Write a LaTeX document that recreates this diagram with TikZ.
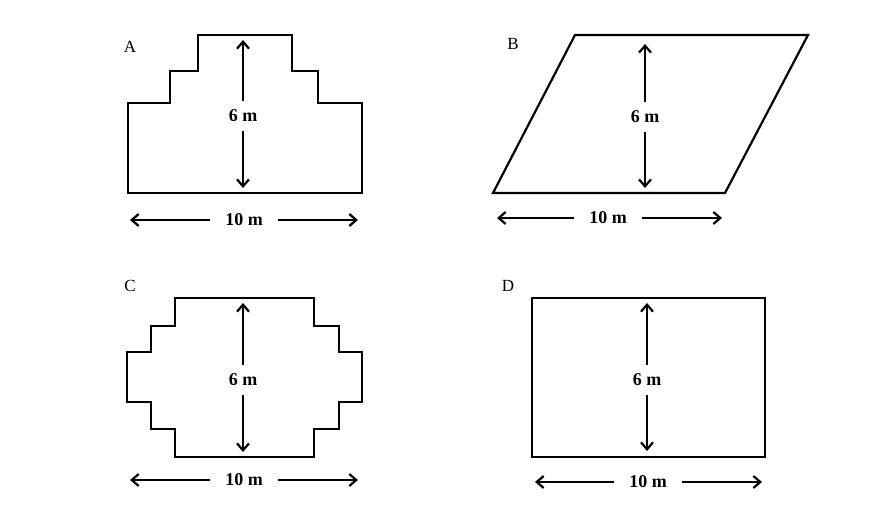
\documentclass[tikz,border=0pt]{standalone}
\usepackage{fontspec}
\setmainfont{Liberation Serif}
\usetikzlibrary{arrows.meta}
\begin{document}
\begin{tikzpicture}[x=1pt,y=-1pt,
  outline/.style={line width=2.2pt, line join=miter},
  dim/.style={line width=2.2pt, -{Straight Barb[length=7pt,width=12pt,line width=2.2pt]}},
  dimlab/.style={font=\fontsize{18}{18}\selectfont\bfseries, inner sep=0pt, outer ysep=9pt},
  hdimlab/.style={font=\fontsize{18}{18}\selectfont\bfseries, inner sep=0pt, outer xsep=15pt},
  letter/.style={font=\fontsize{17}{17}\selectfont, inner sep=0pt}]
\useasboundingbox (0,0) rectangle (894,513);
% ---------- A ----------
\node[letter] (lA) at (130,47) {A};
\draw[outline] (128,193) -- (128,103) -- (170,103) -- (170,71) -- (198,71) -- (198,35)
  -- (292,35) -- (292,71) -- (318,71) -- (318,103) -- (362,103) -- (362,193) -- cycle;
\coordinate (At) at (243,40);
\coordinate (Ab) at (243,188);
\node[dimlab] (A6) at (243,116) {6 m};
\draw[dim] (A6) -- (At);
\draw[dim] (A6) -- (Ab);
\coordinate (Al) at (130,220);
\coordinate (Ar) at (358,220);
\node[hdimlab] (A10) at (244,220) {10 m};
\draw[dim] (A10) -- (Al);
\draw[dim] (A10) -- (Ar);
% ---------- B ----------
\node[letter] (lB) at (513,44) {B};
\draw[outline] (493,193) -- (575,35) -- (808,35) -- (725,193) -- cycle;
\coordinate (Bt) at (645,44);
\coordinate (Bb) at (645,188);
\node[dimlab] (B6) at (645,117) {6 m};
\draw[dim] (B6) -- (Bt);
\draw[dim] (B6) -- (Bb);
\coordinate (Bl) at (497,218);
\coordinate (Br) at (722,218);
\node[hdimlab] (B10) at (608,218) {10 m};
\draw[dim] (B10) -- (Bl);
\draw[dim] (B10) -- (Br);
% ---------- C ----------
\node[letter] (lC) at (130,286) {C};
\draw[outline] (175,298) -- (314,298) -- (314,326) -- (339,326) -- (339,352) -- (362,352)
  -- (362,402) -- (339,402) -- (339,429) -- (314,429) -- (314,457) -- (175,457)
  -- (175,429) -- (151,429) -- (151,402) -- (127,402) -- (127,352) -- (151,352)
  -- (151,326) -- (175,326) -- cycle;
\coordinate (Ct) at (243,303);
\coordinate (Cb) at (243,452);
\node[dimlab] (C6) at (243,380) {6 m};
\draw[dim] (C6) -- (Ct);
\draw[dim] (C6) -- (Cb);
\coordinate (Cl) at (130,480);
\coordinate (Cr) at (358,480);
\node[hdimlab] (C10) at (244,480) {10 m};
\draw[dim] (C10) -- (Cl);
\draw[dim] (C10) -- (Cr);
% ---------- D ----------
\node[letter] (lD) at (508,286) {D};
\draw[outline] (532,298) rectangle (765,457);
\coordinate (Dt) at (647,303);
\coordinate (Db) at (647,451);
\node[dimlab] (D6) at (647,380) {6 m};
\draw[dim] (D6) -- (Dt);
\draw[dim] (D6) -- (Db);
\coordinate (Dl) at (535,482);
\coordinate (Dr) at (762,482);
\node[hdimlab] (D10) at (648,482) {10 m};
\draw[dim] (D10) -- (Dl);
\draw[dim] (D10) -- (Dr);
\end{tikzpicture}
\end{document}
